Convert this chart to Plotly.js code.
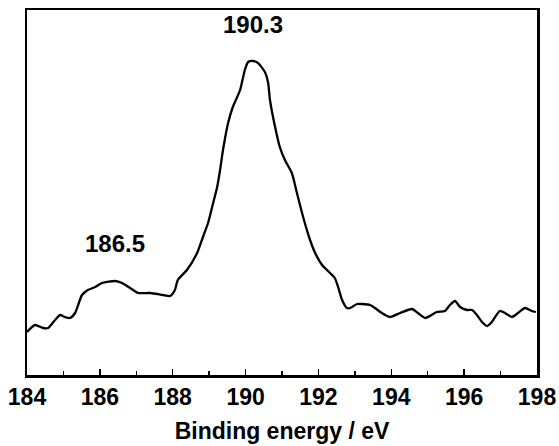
<!DOCTYPE html>
<html>
<head>
<meta charset="utf-8">
<script src="https://cdn.plot.ly/plotly-3.0.1.min.js"></script>
<style>html,body{margin:0;padding:0;background:#fff;}#chart{width:559px;height:446px;}</style>
</head>
<body>
<div id="chart"></div>
<script>
// Binding energy (eV)
const bindingEnergy = [184.0,184.22,184.44,184.58,184.77,184.91,185.04,185.18,185.32,185.51,185.67,185.87,186.06,186.42,186.61,186.83,187.05,187.38,187.73,187.93,188.06,188.14,188.39,188.67,188.83,188.97,189.11,189.22,189.30,189.38,189.52,189.65,189.85,189.98,190.07,190.20,190.34,190.53,190.62,190.67,190.81,190.94,191.08,191.27,191.41,191.58,191.77,191.91,192.10,192.32,192.45,192.54,192.65,192.78,192.87,193.06,193.20,193.42,193.55,193.74,193.96,194.24,194.57,194.73,194.93,195.06,195.25,195.47,195.61,195.75,195.89,196.08,196.22,196.35,196.49,196.63,196.76,196.98,197.12,197.31,197.48,197.67,197.86,197.97];
// Intensity (arbitrary units)
const intensity = [43,50,47,47,55,60,58,57,62,80,85,88,92,94,92,87,82,82,80,79,85,95,105,122,138,152,172,188,205,225,252,268,285,305,313,314,312,303,292,275,248,228,215,202,182,158,135,122,110,102,97,88,75,67,67,71,71,70,67,62,58,62,66,62,57,59,63,64,70,74,68,65,65,60,53,49,53,64,62,58,62,67,64,63];
const tickValues = [184,186,188,190,192,194,196,198];
const tickLabels = ["184","186","188","190","192","194","196","198"];
const peakLabels = ["190.3","186.5"];
const peakX = [190.2,186.42];
const peakY = [351,132];

const fnt = {family:"Liberation Sans, Arial, sans-serif", color:"#000"};

const trace = {
  x: bindingEnergy, y: intensity, type:"scatter", mode:"lines",
  line:{color:"#000", width:2.3, shape:"spline", smoothing:0.6},
  hoverinfo:"skip", showlegend:false
};

const layout = {
  width:559, height:446,
  margin:{l:27, r:22, t:10, b:71},
  paper_bgcolor:"#fff", plot_bgcolor:"#fff",
  showlegend:false,
  xaxis:{
    range:[184,198], showgrid:false, zeroline:false,
    showline:true, linecolor:"#000", linewidth:2.5, mirror:true,
    ticks:"inside", ticklen:6, tickwidth:1.5, tickcolor:"#000",
    tickmode:"array", tickvals:tickValues, ticktext:tickLabels,
    minor:{ticks:"inside", ticklen:4, tickwidth:1.5, tickcolor:"#000", dtick:1},
    tickfont:Object.assign({size:23, weight:"bold"}, fnt),
    title:{text:"Binding energy / eV", font:Object.assign({size:23, weight:"bold"}, fnt), standoff:14},
    automargin:false
  },
  yaxis:{
    range:[0,365], showgrid:false, zeroline:false,
    showline:true, linecolor:"#000", linewidth:2.5, mirror:true,
    ticks:"", showticklabels:false, automargin:false
  },
  annotations: peakLabels.map((t,i)=>({
    x:peakX[i], y:peakY[i], xref:"x", yref:"y", text:t, showarrow:false,
    font:Object.assign({size:24, weight:"bold"}, fnt)
  }))
};

Plotly.newPlot("chart", [trace], layout, {staticPlot:true, displayModeBar:false});
</script>
</body>
</html>
